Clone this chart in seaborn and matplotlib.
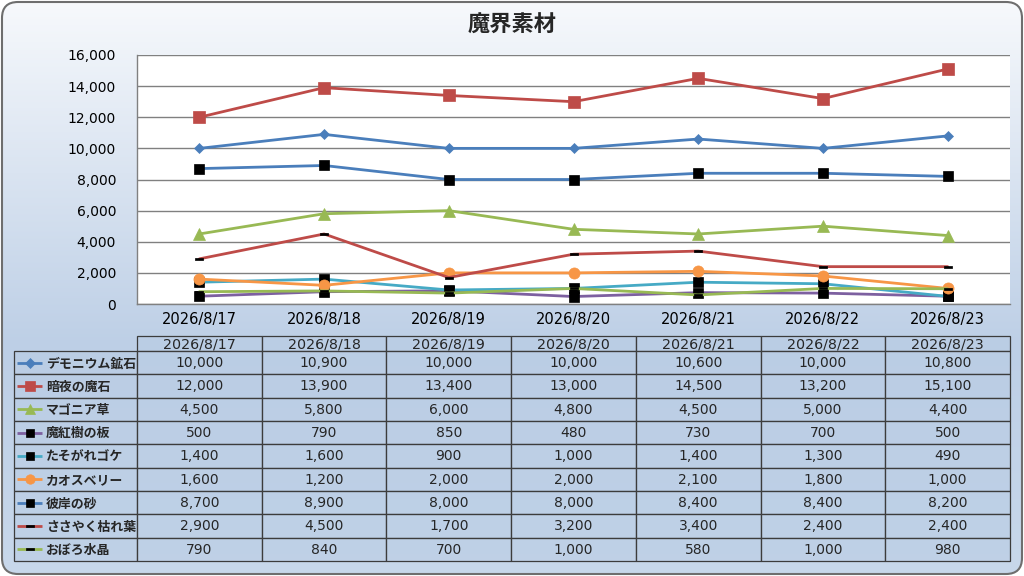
import matplotlib
matplotlib.use("Agg")
import matplotlib.pyplot as plt
import seaborn as sns
import pandas as pd
import numpy as np
from matplotlib.patches import FancyBboxPatch, Rectangle
from matplotlib.ticker import FuncFormatter

# ---- data ----
title = "魔界素材"
dates = ["2026/8/17", "2026/8/18", "2026/8/19", "2026/8/20",
         "2026/8/21", "2026/8/22", "2026/8/23"]
series_names = ["デモニウム鉱石", "暗夜の魔石", "マゴニア草", "魔紅樹の板",
                "たそがれゴケ", "カオスベリー", "彼岸の砂", "ささやく枯れ葉", "おぼろ水晶"]
demonium = [10000, 10900, 10000, 10000, 10600, 10000, 10800]
anya_maseki = [12000, 13900, 13400, 13000, 14500, 13200, 15100]
magonia = [4500, 5800, 6000, 4800, 4500, 5000, 4400]
makoju = [500, 790, 850, 480, 730, 700, 500]
tasogare = [1400, 1600, 900, 1000, 1400, 1300, 490]
chaos_berry = [1600, 1200, 2000, 2000, 2100, 1800, 1000]
higan_suna = [8700, 8900, 8000, 8000, 8400, 8400, 8200]
sasayaku = [2900, 4500, 1700, 3200, 3400, 2400, 2400]
oboro = [790, 840, 700, 1000, 580, 1000, 980]
all_values = [demonium, anya_maseki, magonia, makoju, tasogare,
              chaos_berry, higan_suna, sasayaku, oboro]

# ---- styles ----
blue, red, green = "#4A7EBB", "#BE4B48", "#98B954"
purple, cyan, orange = "#7D60A0", "#46AAC5", "#F79646"
dash = [(-1, -0.35), (1, -0.35), (1, 0.35), (-1, 0.35), (-1, -0.35)]
styles = [
    dict(color=blue, marker="D", ms=5.5, mfc=blue, mec=blue),
    dict(color=red, marker="s", ms=8, mfc=red, mec=red),
    dict(color=green, marker="^", ms=8.5, mfc=green, mec=green),
    dict(color=purple, marker="s", ms=7.5, mfc="black", mec="black"),
    dict(color=cyan, marker="s", ms=7.5, mfc="black", mec="black"),
    dict(color=orange, marker="o", ms=8, mfc=orange, mec=orange),
    dict(color=blue, marker="s", ms=7.5, mfc="black", mec="black"),
    dict(color=red, marker=dash, ms=6, mfc="black", mec="black"),
    dict(color=green, marker=dash, ms=6, mfc="black", mec="black"),
]

sns.set_theme(style="white")
plt.rcParams["font.family"] = ["Noto Sans CJK JP", "DejaVu Sans"]
num_font = ["DejaVu Sans", "Noto Sans CJK JP"]

W, H = 1024, 576
fig = plt.figure(figsize=(W / 100, H / 100), dpi=100)

# background with rounded frame and vertical gradient
bg = fig.add_axes([0, 0, 1, 1], zorder=-5)
bg.set_xlim(0, W)
bg.set_ylim(H, 0)
bg.axis("off")
top_c = np.array([0xF7, 0xF9, 0xFC]) / 255
mid_c = np.array([0xBD, 0xCF, 0xE6]) / 255
bot_c = np.array([0xC8, 0xD8, 0xEB]) / 255
yy = np.linspace(0, 1, 300)
grad = np.zeros((300, 1, 3))
for i, t in enumerate(yy):
    if t < 0.6:
        k = t / 0.6
        grad[i, 0] = top_c * (1 - k) + mid_c * k
    else:
        k = (t - 0.6) / 0.4
        grad[i, 0] = mid_c * (1 - k) + bot_c * k
frame = FancyBboxPatch((2, 2), W - 4, H - 4, boxstyle="round,pad=0,rounding_size=16",
                       facecolor="none", edgecolor="#6E6E6E", linewidth=1.5, zorder=3)
bg.add_patch(frame)
im = bg.imshow(grad, extent=(0, W, H, 0), aspect="auto", zorder=1)
im.set_clip_path(frame)

# ---- line chart ----
x0, x1, ytop, ybot = 137, 1010, 55, 304
ax = fig.add_axes([x0 / W, 1 - ybot / H, (x1 - x0) / W, (ybot - ytop) / H])
ax.set_facecolor("white")
pos = list(range(len(dates)))
for name, vals, st in zip(series_names, all_values, styles):
    df = pd.DataFrame({"pos": pos, "value": vals})
    sns.lineplot(data=df, x="pos", y="value", ax=ax, color=st["color"],
                 marker=st["marker"], markersize=st["ms"],
                 markerfacecolor=st["mfc"], markeredgecolor=st["mec"],
                 markeredgewidth=0.5, linewidth=2.0, sort=False, legend=False)
ax.set_xlim(-0.5, len(dates) - 0.5)
ax.set_ylim(0, 16000)
ax.set_yticks(range(0, 16001, 2000))
ax.yaxis.set_major_formatter(FuncFormatter(lambda v, p: f"{int(v):,}"))
ax.set_xticks(pos)
ax.set_xticklabels(dates)
ax.set_xlabel("")
ax.set_ylabel("")
ax.grid(axis="y", color="#808080", linewidth=1.0)
ax.set_axisbelow(True)
ax.tick_params(axis="both", length=0, colors="black")
ax.tick_params(axis="x", pad=6)
ax.tick_params(axis="y", pad=15)
for lab in ax.get_xticklabels():
    lab.set_fontfamily(num_font)
    lab.set_fontsize(10.5)
for lab in ax.get_yticklabels():
    lab.set_fontfamily(num_font)
    lab.set_fontsize(10)
for s in ["top", "right"]:
    ax.spines[s].set_visible(False)
ax.spines["left"].set_color("#808080")
ax.spines["bottom"].set_color("#808080")
ax.spines["left"].set_linewidth(1.0)
ax.spines["bottom"].set_linewidth(1.0)

fig.text(0.5, 1 - 25 / H, title, ha="center", va="center",
         fontsize=16, fontweight="bold")

# ---- data table ----
tb = fig.add_axes([0, 0, 1, 1], zorder=2)
tb.set_xlim(0, W)
tb.set_ylim(H, 0)
tb.axis("off")
col_w = (x1 - x0) / len(dates)
lab_x0 = 14
head_y0, head_y1 = 336, 351
row_h = (561 - head_y1) / len(series_names)
edge = "#3C3C3C"
cell_fc = "#B9CCE4"

for j, d in enumerate(dates):
    cx = x0 + j * col_w
    tb.add_patch(Rectangle((cx, head_y0), col_w, head_y1 - head_y0,
                           facecolor=cell_fc, edgecolor="none", alpha=0.55))
    tb.add_patch(Rectangle((cx, head_y0), col_w, head_y1 - head_y0,
                           facecolor="none", edgecolor=edge, linewidth=0.9))
    tb.text(cx + col_w / 2, (head_y0 + head_y1) / 2 + 0.5, d, ha="center",
            va="center", fontsize=10.3, family=num_font)

for i, (name, vals, st) in enumerate(zip(series_names, all_values, styles)):
    ry = head_y1 + i * row_h
    tb.add_patch(Rectangle((lab_x0, ry), x0 - lab_x0, row_h,
                           facecolor=cell_fc, edgecolor="none", alpha=0.55))
    tb.add_patch(Rectangle((lab_x0, ry), x0 - lab_x0, row_h,
                           facecolor="none", edgecolor=edge, linewidth=0.9))
    cy = ry + row_h / 2
    tb.plot([17, 42], [cy, cy], color=st["color"], linewidth=2.0,
            solid_capstyle="butt")
    tb.plot([29.5], [cy], marker=st["marker"], markersize=st["ms"] * 0.85,
            markerfacecolor=st["mfc"], markeredgecolor=st["mec"],
            markeredgewidth=0.5, linestyle="none")
    tb.text(46, cy + 0.5, name, ha="left", va="center", fontsize=9.3,
            fontweight="bold")
    for j, v in enumerate(vals):
        cx = x0 + j * col_w
        tb.add_patch(Rectangle((cx, ry), col_w, row_h, facecolor=cell_fc,
                               edgecolor="none", alpha=0.55))
        tb.add_patch(Rectangle((cx, ry), col_w, row_h, facecolor="none",
                               edgecolor=edge, linewidth=0.9))
        tb.text(cx + col_w / 2, cy + 0.5, f"{v:,}", ha="center", va="center",
                fontsize=10, family=num_font)

fig.savefig("out.png", dpi=100)
